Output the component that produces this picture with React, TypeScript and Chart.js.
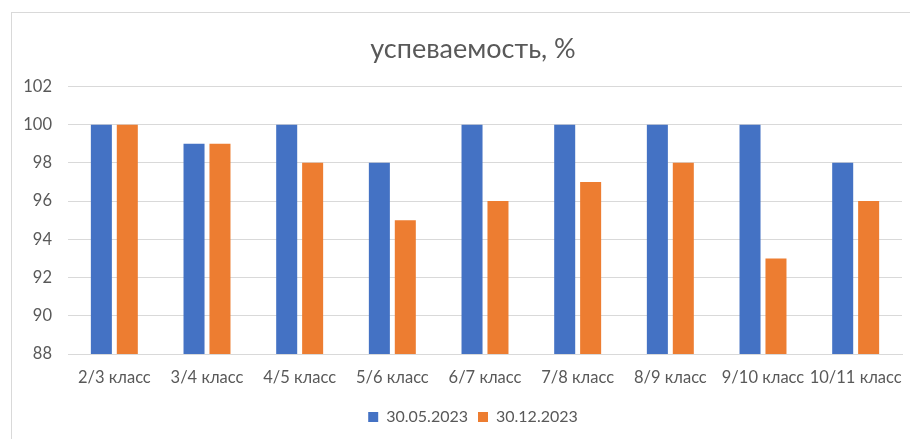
import React, { useEffect, useRef } from "react";
import { Chart, registerables } from "chart.js";

Chart.register(...registerables);

const categories = [
  "2/3 класс",
  "3/4 класс",
  "4/5 класс",
  "5/6 класс",
  "6/7 класс",
  "7/8 класс",
  "8/9 класс",
  "9/10 класс",
  "10/11 класс",
];
const seriesMay = [100, 99, 100, 98, 100, 100, 100, 100, 98];
const seriesDec = [100, 99, 98, 95, 96, 97, 98, 93, 96];
const seriesNames = ["30.05.2023", "30.12.2023"];
const titleText = "успеваемость, %";
const yMin = 88;
const yMax = 102;
const yStep = 2;

const FONT = "Lato, 'Open Sans', sans-serif";
const TEXT = "#595959";
const GRID = "#D9D9D9";

export default function App() {
  const ref = useRef<HTMLCanvasElement | null>(null);

  useEffect(() => {
    if (!ref.current) return;
    const chart = new Chart(ref.current, {
      type: "bar",
      data: {
        labels: categories,
        datasets: [
          {
            label: seriesNames[0],
            data: seriesMay,
            backgroundColor: "#4472C4",
            categoryPercentage: 0.56,
            barPercentage: 0.81,
          },
          {
            label: seriesNames[1],
            data: seriesDec,
            backgroundColor: "#ED7D31",
            categoryPercentage: 0.56,
            barPercentage: 0.81,
          },
        ],
      },
      options: {
        responsive: false,
        animation: false,
        layout: { padding: { left: 0, right: 0, top: 0, bottom: 11 } },
        plugins: {
          title: {
            display: true,
            text: titleText,
            color: TEXT,
            font: { family: FONT, size: 27, weight: "normal" },
            padding: { top: 21, bottom: 21 },
          },
          legend: {
            position: "bottom",
            labels: {
              boxWidth: 10,
              boxHeight: 10,
              padding: 10,
              color: TEXT,
              font: { family: FONT, size: 16 },
            },
          },
          tooltip: { enabled: false },
        },
        scales: {
          x: {
            grid: { display: false, drawTicks: false },
            border: { display: true, color: GRID, width: 1 },
            ticks: {
              color: TEXT,
              font: { family: FONT, size: 16.5 },
              padding: 14,
              maxRotation: 0,
              autoSkip: false,
            },
            afterFit: (s: any) => {
              s.height = 45;
            },
          },
          y: {
            min: yMin,
            max: yMax,
            grid: { color: GRID, drawTicks: false, lineWidth: 1 },
            border: { display: false },
            ticks: {
              stepSize: yStep,
              color: TEXT,
              font: { family: FONT, size: 16.5 },
              padding: 16,
            },
            afterFit: (s: any) => {
              s.width = 57;
            },
          },
          yRight: {
            position: "right",
            display: true,
            grid: { display: false, drawTicks: false },
            border: { display: false },
            ticks: { display: false },
            afterFit: (s: any) => {
              s.width = 33;
            },
          },
        },
      },
    });
    return () => chart.destroy();
  }, []);

  return (
    <div
      style={{
        position: "fixed",
        left: 0,
        top: 0,
        width: 910,
        height: 439,
        overflow: "hidden",
        background: "#fff",
      }}
    >
      <div
        style={{
          position: "absolute",
          left: 11,
          top: 12,
          width: 930,
          height: 440,
          border: "1px solid " + GRID,
          boxSizing: "border-box",
        }}
      />
      <canvas
        ref={ref}
        width={924}
        height={434}
        style={{ position: "absolute", left: 11, top: 12, width: 924, height: 434 }}
      />
    </div>
  );
}
